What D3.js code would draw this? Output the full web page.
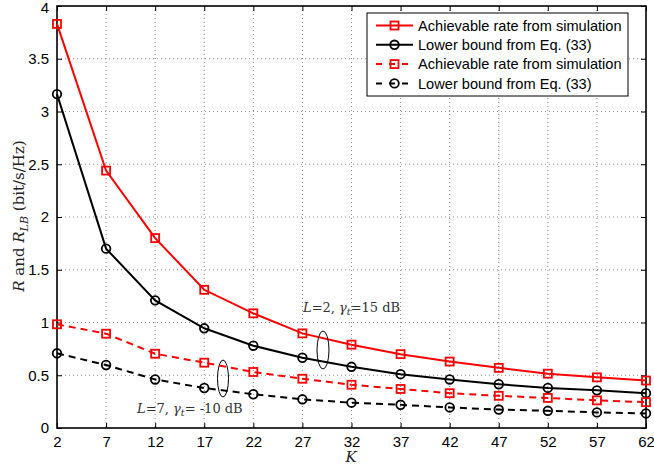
<!DOCTYPE html>
<html>
<head>
<meta charset="utf-8">
<script src="https://cdn.jsdelivr.net/npm/d3@7"></script>
<style>
  html, body { margin: 0; padding: 0; background: #fff; }
  svg { display: block; }
</style>
</head>
<body>
<svg id="chart" width="654" height="468"></svg>
<script>
// Number of users K
const kValues = [2, 7, 12, 17, 22, 27, 32, 37, 42, 47, 52, 57, 62];

// L=2, gamma_t=15 dB
const rateSimHigh = [3.83, 2.44, 1.80, 1.31, 1.087, 0.897, 0.79, 0.70, 0.63, 0.57, 0.515, 0.48, 0.45];
const lowerBoundHigh = [3.165, 1.70, 1.21, 0.945, 0.78, 0.666, 0.58, 0.51, 0.46, 0.415, 0.38, 0.357, 0.33];

// L=7, gamma_t=-10 dB
const rateSimLow = [0.983, 0.894, 0.704, 0.619, 0.531, 0.467, 0.41, 0.37, 0.33, 0.305, 0.285, 0.262, 0.245];
const lowerBoundLow = [0.708, 0.597, 0.46, 0.379, 0.32, 0.272, 0.24, 0.22, 0.195, 0.175, 0.163, 0.148, 0.138];

const yTicks = [0, 0.5, 1, 1.5, 2, 2.5, 3, 3.5, 4];
const yTickLabels = ["0", "0.5", "1", "1.5", "2", "2.5", "3", "3.5", "4"];

const legendLabels = [
  "Achievable rate from simulation",
  "Lower bound from Eq. (33)",
  "Achievable rate from simulation",
  "Lower bound from Eq. (33)"
];

const series = [
  { values: rateSimHigh, color: "#ff0000", marker: "square", dashed: false },
  { values: lowerBoundHigh, color: "#000000", marker: "circle", dashed: false },
  { values: rateSimLow, color: "#ff0000", marker: "square", dashed: true },
  { values: lowerBoundLow, color: "#000000", marker: "circle", dashed: true }
];

const svg = d3.select("#chart");
const plotLeft = 57, plotRight = 646, plotTop = 6, plotBottom = 428;

const x = d3.scaleLinear().domain([2, 62]).range([plotLeft, plotRight]);
const y = d3.scaleLinear().domain([0, 4]).range([plotBottom, plotTop]);

const tickFont = "Liberation Sans, Arial, sans-serif";
const serifFont = "DejaVu Serif, serif";

// dotted grid
const grid = svg.append("g");
grid.selectAll("line.gx").data(kValues.slice(1, -1)).enter().append("line")
  .attr("x1", d => x(d)).attr("x2", d => x(d))
  .attr("y1", plotTop).attr("y2", plotBottom)
  .attr("stroke", "#8a8a8a").attr("stroke-width", 1).attr("stroke-dasharray", "1,3");
grid.selectAll("line.gy").data(yTicks.slice(1, -1)).enter().append("line")
  .attr("x1", plotLeft).attr("x2", plotRight)
  .attr("y1", d => y(d)).attr("y2", d => y(d))
  .attr("stroke", "#8a8a8a").attr("stroke-width", 1).attr("stroke-dasharray", "1,3");

// axes with inward ticks on all four sides
const xAxisB = d3.axisBottom(x).tickValues(kValues).tickSizeInner(-5).tickSizeOuter(0).tickPadding(8);
const xAxisT = d3.axisTop(x).tickValues(kValues).tickSizeInner(-5).tickSizeOuter(0).tickFormat("");
const yAxisL = d3.axisLeft(y).tickValues(yTicks).tickSizeInner(-5).tickSizeOuter(0).tickPadding(8)
  .tickFormat((d, i) => yTickLabels[i]);
const yAxisR = d3.axisRight(y).tickValues(yTicks).tickSizeInner(-5).tickSizeOuter(0).tickFormat("");

function styleAxis(g) {
  g.select(".domain").remove();
  g.selectAll(".tick line").attr("stroke", "#000").attr("stroke-width", 1);
  g.selectAll(".tick text").attr("font-family", tickFont).attr("font-size", 15).attr("fill", "#000");
}
svg.append("g").attr("transform", `translate(0,${plotBottom})`).call(xAxisB).call(styleAxis);
svg.append("g").attr("transform", `translate(0,${plotTop})`).call(xAxisT).call(styleAxis);
const yAxisLeftG = svg.append("g").attr("transform", `translate(${plotLeft},0)`).call(yAxisL).call(styleAxis);
// keep the topmost label inside the canvas
yAxisLeftG.selectAll(".tick text").filter(d => d === 4).attr("dy", "0.45em");
svg.append("g").attr("transform", `translate(${plotRight},0)`).call(yAxisR).call(styleAxis);

// frame
svg.append("rect").attr("x", plotLeft).attr("y", plotTop)
  .attr("width", plotRight - plotLeft).attr("height", plotBottom - plotTop)
  .attr("fill", "none").attr("stroke", "#000").attr("stroke-width", 1.6);

// data series
const line = d3.line().x((d, i) => x(kValues[i])).y(d => y(d));

function drawMarker(g, cx, cy, s) {
  if (s.marker === "square") {
    g.append("rect").attr("x", cx - 4).attr("y", cy - 4).attr("width", 8).attr("height", 8)
      .attr("fill", "none").attr("stroke", s.color).attr("stroke-width", 1.8);
  } else {
    g.append("circle").attr("cx", cx).attr("cy", cy).attr("r", 4.3)
      .attr("fill", "none").attr("stroke", s.color).attr("stroke-width", 1.8);
  }
}

series.forEach(s => {
  const g = svg.append("g");
  g.append("path").datum(s.values).attr("d", line)
    .attr("fill", "none").attr("stroke", s.color).attr("stroke-width", 2)
    .attr("stroke-dasharray", s.dashed ? "7,5" : null);
  s.values.forEach((v, i) => drawMarker(g, x(kValues[i]), y(v), s));
});

// annotations: ellipses grouping curve pairs
svg.append("ellipse").attr("cx", 323).attr("cy", 350).attr("rx", 6).attr("ry", 19)
  .attr("fill", "none").attr("stroke", "#000").attr("stroke-width", 1);
svg.append("ellipse").attr("cx", 223).attr("cy", 378.5).attr("rx", 5.5).attr("ry", 18.5)
  .attr("fill", "none").attr("stroke", "#000").attr("stroke-width", 1);

function annotation(tx, ty, L, gamma) {
  const t = svg.append("text").attr("x", tx).attr("y", ty)
    .attr("font-family", serifFont).attr("font-size", 13).attr("fill", "#333");
  t.append("tspan").attr("font-style", "italic").text("L");
  t.append("tspan").text("=" + L + ", ");
  t.append("tspan").attr("font-style", "italic").text("γ");
  t.append("tspan").attr("font-style", "italic").attr("font-size", 9.5).attr("dy", 3).text("t");
  t.append("tspan").attr("dy", -3).text("=" + gamma + " dB");
}
annotation(303, 312, "2", "15");
annotation(137, 413, "7", " -10");

// legend
const lg = svg.append("g");
lg.append("rect").attr("x", 367).attr("y", 13).attr("width", 261).attr("height", 83)
  .attr("fill", "#fff").attr("stroke", "#000").attr("stroke-width", 1);
series.forEach((s, i) => {
  const cy = 25.5 + i * 19.3;
  lg.append("line").attr("x1", 376).attr("x2", 413).attr("y1", cy).attr("y2", cy)
    .attr("stroke", s.color).attr("stroke-width", 2)
    .attr("stroke-dasharray", s.dashed ? "6,7" : null);
  drawMarker(lg, 394.5, cy, s);
  lg.append("text").attr("x", 418).attr("y", cy).attr("dy", "0.36em")
    .attr("font-family", tickFont).attr("font-size", 14.6).attr("fill", "#000")
    .text(legendLabels[i]);
});

// axis titles
const yl = svg.append("text")
  .attr("transform", "translate(24,216) rotate(-90)")
  .attr("text-anchor", "middle")
  .attr("font-family", serifFont).attr("font-size", 15).attr("fill", "#222");
yl.append("tspan").attr("font-style", "italic").text("R");
yl.append("tspan").text(" and ");
yl.append("tspan").attr("font-style", "italic").text("R");
yl.append("tspan").attr("font-style", "italic").attr("font-size", 11).attr("dy", 4).text("LB");
yl.append("tspan").attr("dy", -4).text(" (bit/s/Hz)");

svg.append("text").attr("x", 351).attr("y", 462)
  .attr("text-anchor", "middle").attr("font-family", serifFont)
  .attr("font-style", "italic").attr("font-size", 15).attr("fill", "#222").text("K");
</script>
</body>
</html>
